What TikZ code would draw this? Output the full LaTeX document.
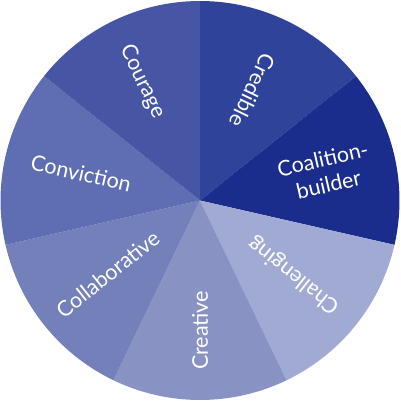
\documentclass[tikz,border=0pt]{standalone}
\usepackage{fontspec}
\setmainfont{Lato}
\usepackage{xcolor}
\usepackage{tikz}
\definecolor{credible}{HTML}{2E4399}
\definecolor{coalition}{HTML}{1A2C8C}
\definecolor{challenging}{HTML}{A1AAD3}
\definecolor{creative}{HTML}{8893C4}
\definecolor{collaborative}{HTML}{7380BA}
\definecolor{conviction}{HTML}{5F6EB3}
\definecolor{courage}{HTML}{4656A4}

\begin{document}
\begin{tikzpicture}[x=1pt,y=1pt,
  wedgetext/.style={text=white,align=center,inner sep=0pt,
                    font=\fontsize{21.5}{26}\selectfont}]
  \useasboundingbox (-200,-201.5) rectangle (200,200.5);
  % seven equal wedges, clockwise from the top
  \foreach \i/\col in {0/credible,1/coalition,2/challenging,3/creative,
                       4/collaborative,5/conviction,6/courage} {
    \pgfmathsetmacro\a{90-\i*360/7}
    \pgfmathsetmacro\b{\a-360/7}
    \fill[\col] (0,0) -- (\a:199.5) arc[start angle=\a,end angle=\b,radius=199.5] -- cycle;
  }
  \node[wedgetext,rotate=-115.71] (cred) at (64.29:122) {Credible};
  \node[wedgetext,rotate=12.86] (coal) at (12.86:129) {Coalition-\\builder};
  \node[wedgetext,rotate=141.43] (chal) at (-38.57:120) {Challenging};
  \node[wedgetext,rotate=90] (crea) at (-90:130) {Creative};
  \node[wedgetext,rotate=38.57] (coll) at (-141.43:118) {Collaborative};
  \node[wedgetext,rotate=-12.86] (conv) at (167.14:122) {Conviction};
  \node[wedgetext,rotate=-64.29] (cour) at (115.71:132) {Courage};
\end{tikzpicture}
\end{document}
